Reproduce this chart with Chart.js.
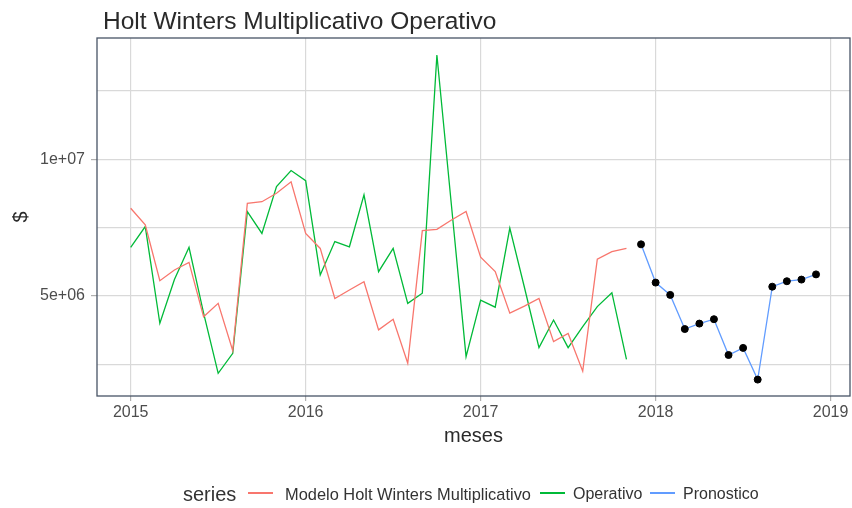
<!DOCTYPE html>
<html>
<head>
<meta charset="utf-8">
<script src="https://cdn.jsdelivr.net/npm/chart.js@4.4.1/dist/chart.umd.min.js"></script>
<style>
  body { margin: 0; background: #fff; font-family: 'Liberation Sans', Arial, sans-serif; }
  #caja { position: relative; width: 852px; height: 508px; }
  #titulo { position: absolute; left: 103px; top: 9px; font-size: 24.5px; line-height: 24px; color: #2a2a2a; white-space: nowrap; }
  .ley { position: absolute; top: 483px; height: 22px; display: flex; align-items: center; white-space: nowrap; color: #333; }
  .linea { position: absolute; top: 492px; width: 25px; height: 1.5px; }
</style>
</head>
<body>
<div id="caja">
  <canvas id="grafico" width="852" height="508"></canvas>
  <div id="titulo">Holt Winters Multiplicativo Operativo</div>
  <div class="ley" style="left:183px;font-size:20px">series</div>
  <div class="linea" style="left:248px;background:#F8766D"></div>
  <div class="ley" style="left:285px;font-size:16.4px">Modelo Holt Winters Multiplicativo</div>
  <div class="linea" style="left:540px;background:#00BA38"></div>
  <div class="ley" style="left:573px;font-size:16px">Operativo</div>
  <div class="linea" style="left:650px;background:#619CFF"></div>
  <div class="ley" style="left:683px;font-size:16px">Pronostico</div>
</div>
<script>
// meses (categorias)
const meses = [
  '2015-01','2015-02','2015-03','2015-04','2015-05','2015-06','2015-07','2015-08','2015-09','2015-10','2015-11','2015-12',
  '2016-01','2016-02','2016-03','2016-04','2016-05','2016-06','2016-07','2016-08','2016-09','2016-10','2016-11','2016-12',
  '2017-01','2017-02','2017-03','2017-04','2017-05','2017-06','2017-07','2017-08','2017-09','2017-10','2017-11','2017-12',
  '2018-01','2018-02','2018-03','2018-04','2018-05','2018-06','2018-07','2018-08','2018-09','2018-10','2018-11','2018-12'
];

// valores (millones)
const modeloHW = [8.21, 7.60, 5.56, 5.95, 6.23, 4.24, 4.73, 3.00, 8.39, 8.45, 8.76, 9.18,
                  7.29, 6.74, 4.91, 5.22, 5.52, 3.76, 4.15, 2.54, 7.39, 7.44, 7.78, 8.09,
                  6.42, 5.89, 4.37, 4.63, 4.91, 3.33, 3.63, 2.25, 6.35, 6.62, 6.74];
const operativo = [6.78, 7.54, 4.00, 5.60, 6.78, 4.37, 2.17, 2.90, 8.09, 7.29, 9.00, 9.59,
                   9.22, 5.77, 6.99, 6.80, 8.70, 5.89, 6.74, 4.73, 5.10, 13.82, 8.30, 2.78,
                   4.85, 4.59, 7.48, 5.32, 3.11, 4.12, 3.11, 3.88, 4.61, 5.12, 2.68];
const pronostico = [6.89, 5.49, 5.04, 3.79, 3.99, 4.15, 2.84, 3.10, 1.94, 5.34, 5.54, 5.60, 5.79];
const inicioPronostico = '2017-12';

// ejes
const anios = ['2015', '2016', '2017', '2018', '2019'];
const yTicks = [2.5e6, 5e6, 7.5e6, 1e7, 1.25e7];
const yEtiquetas = ['', '5e+06', '', '1e+07', ''];

const fuente = "'Liberation Sans', Arial, sans-serif";
const colorBorde = '#485466';

function aPuntos(valores, desde) {
  const i0 = meses.indexOf(desde);
  return valores.map((v, i) => ({ x: i0 + i, y: v * 1e6 }));
}

// borde del panel
const bordePanel = {
  id: 'bordePanel',
  afterDatasetsDraw(chart) {
    const { ctx, chartArea: a } = chart;
    ctx.save();
    ctx.strokeStyle = colorBorde;
    ctx.lineWidth = 1.3;
    ctx.strokeRect(a.left, a.top, a.right - a.left, a.bottom - a.top);
    ctx.restore();
  }
};

new Chart(document.getElementById('grafico'), {
  type: 'line',
  data: {
    datasets: [
      { label: 'Modelo Holt Winters Multiplicativo', data: aPuntos(modeloHW, '2015-01'),
        borderColor: '#F8766D', borderWidth: 1.3, pointRadius: 0, tension: 0 },
      { label: 'Operativo', data: aPuntos(operativo, '2015-01'),
        borderColor: '#00BA38', borderWidth: 1.3, pointRadius: 0, tension: 0 },
      { label: 'Pronostico', data: aPuntos(pronostico, inicioPronostico),
        borderColor: '#619CFF', borderWidth: 1.3, pointRadius: 3.5, pointBorderWidth: 1,
        pointBackgroundColor: '#000', pointBorderColor: '#000', tension: 0 }
    ]
  },
  options: {
    responsive: false,
    animation: false,
    layout: { autoPadding: false, padding: { left: 0, right: 2, top: 38, bottom: 56 } },
    plugins: { legend: { display: false }, tooltip: { enabled: false } },
    scales: {
      x: {
        type: 'linear',
        min: -2.31,
        max: 49.33,
        afterBuildTicks: s => { s.ticks = anios.map((a, i) => ({ value: i * 12 })); },
        afterFit: s => { s.height = 56; s.paddingLeft = 0; s.paddingRight = 0; },
        border: { display: false },
        grid: { color: '#d9d9d9', lineWidth: 1.2, tickLength: 5, tickColor: '#b0b0b0' },
        ticks: {
          padding: 2, color: '#4d4d4d', font: { family: fuente, size: 16 },
          maxRotation: 0, autoSkip: false,
          callback: v => anios[Math.round(v / 12)]
        },
        title: { display: true, text: 'meses', color: '#2a2a2a', font: { family: fuente, size: 20 },
                 padding: { top: 0, bottom: 4 } }
      },
      y: {
        min: 1.34e6,
        max: 14.44e6,
        afterBuildTicks: s => { s.ticks = yTicks.map(v => ({ value: v })); },
        afterFit: s => { s.width = 97; s.paddingTop = 0; s.paddingBottom = 0; },
        border: { display: false },
        grid: {
          color: '#d9d9d9', lineWidth: 1.2, tickLength: 6,
          tickColor: c => (yEtiquetas[yTicks.indexOf(c.tick && c.tick.value)] ? '#b0b0b0' : 'rgba(0,0,0,0)')
        },
        ticks: {
          padding: 6, color: '#4d4d4d', font: { family: fuente, size: 16 },
          callback: v => yEtiquetas[yTicks.indexOf(v)]
        },
        title: { display: true, text: '$', color: '#2a2a2a', font: { family: fuente, size: 20 },
                 padding: { top: 9, bottom: 0 } }
      }
    }
  },
  plugins: [bordePanel]
});
</script>
</body>
</html>
